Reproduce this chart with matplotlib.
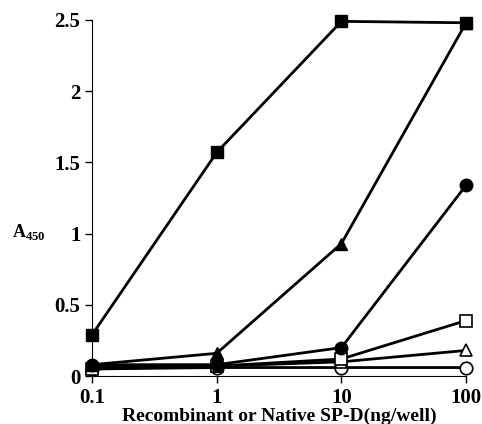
import numpy as np
from matplotlib import pyplot as plt

# concentrations (ng/well)
conc = [0.1, 1, 10, 100]

# A450 readings per series
sq_filled = [0.29, 1.57, 2.49, 2.48]
tri_filled = [0.08, 0.16, 0.93, 2.48]
circ_filled = [0.08, 0.08, 0.20, 1.34]
sq_open = [0.05, 0.07, 0.12, 0.39]
tri_open = [0.06, 0.07, 0.10, 0.18]
circ_open = [0.05, 0.06, 0.06, 0.06]

plt.rcParams['font.family'] = ['Liberation Serif', 'DejaVu Serif']
plt.rcParams['font.weight'] = 'bold'

fig = plt.figure(figsize=(4.82, 4.24), dpi=100)
ax = fig.add_axes([0.191, 0.113, 0.776, 0.840])

kw = dict(color='black', lw=2, ms=9, clip_on=False, zorder=3)
ax.plot(conc, circ_open, marker='o', mfc='white', mec='black', mew=1.2, **kw)
ax.plot(conc, tri_open, marker='^', mfc='white', mec='black', mew=1.2, **kw)
ax.plot(conc, sq_open, marker='s', mfc='white', mec='black', mew=1.2, **kw)
ax.plot(conc, circ_filled, marker='o', mfc='black', **kw)
ax.plot(conc, tri_filled, marker='^', mfc='black', **kw)
ax.plot(conc, sq_filled, marker='s', mfc='black', **kw)

ax.set_xscale('log')
ax.set_xlim(0.1, 100)
ax.set_ylim(0, 2.5)
ax.set_xticks(conc)
ax.set_xticklabels(['0.1', '1', '10', '100'], fontsize=15)
ax.set_yticks([0, 0.5, 1, 1.5, 2, 2.5])
ax.set_yticklabels(['0', '0.5', '1', '1.5', '2', '2.5'], fontsize=15)
ax.minorticks_off()
ax.tick_params(direction='out', length=5, width=1)

for s in ['top', 'right']:
    ax.spines[s].set_visible(False)

ax.set_xlabel('Recombinant or Native SP-D(ng/well)', fontsize=14, fontweight='bold', labelpad=0)
fig.text(0.025, 0.44, r'A$_{\mathregular{450}}$', fontsize=13, fontweight='bold')

fig.savefig('out.png', dpi=100)
